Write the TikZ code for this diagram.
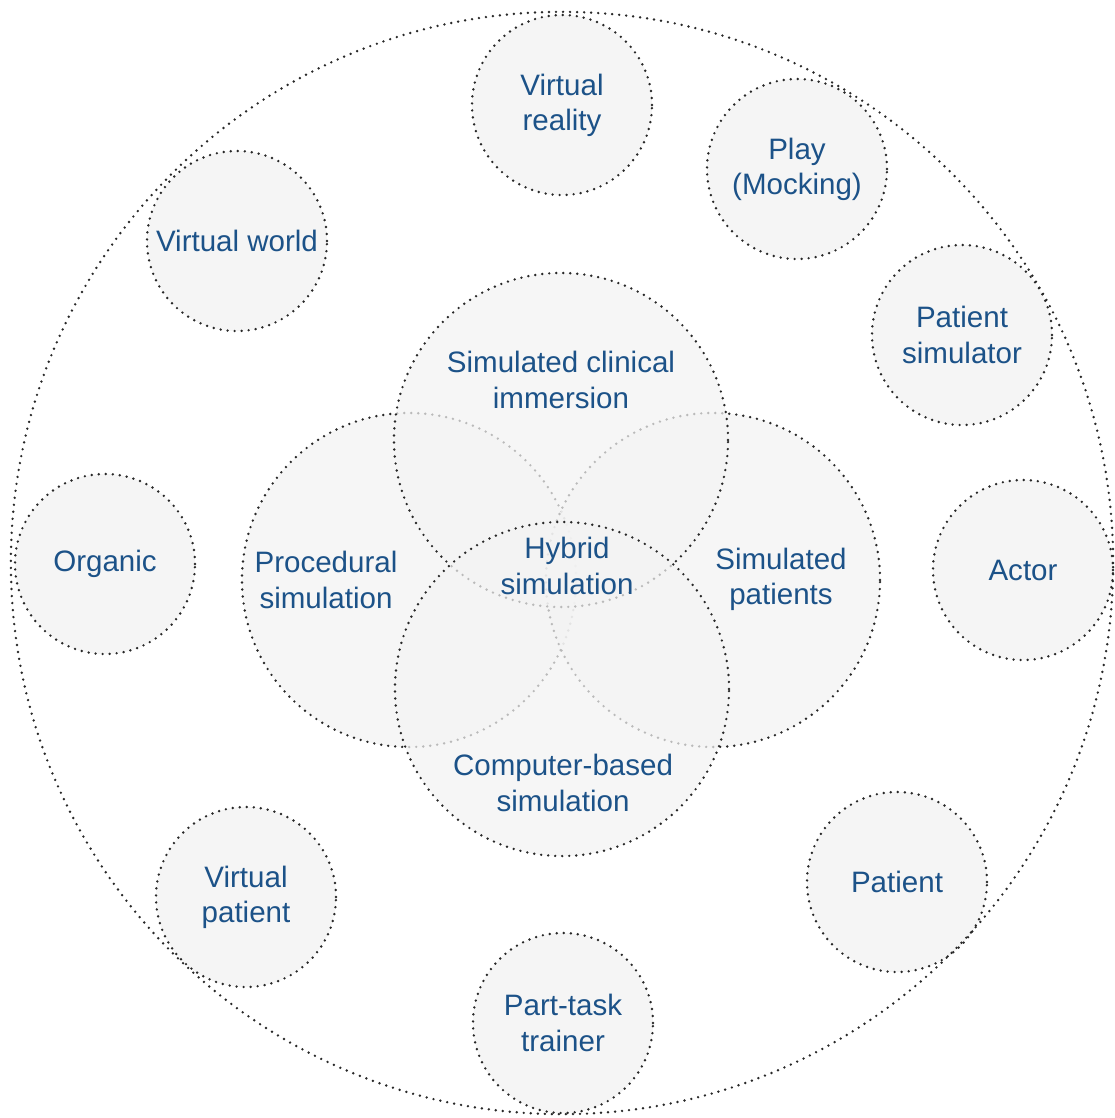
\documentclass[tikz,border=0pt]{standalone}
\usepackage{fontspec}
\setmainfont{Liberation Sans}
\definecolor{simblue}{RGB}{28,82,136}
\definecolor{bubblegray}{RGB}{245,245,245}
\definecolor{fieldgray}{RGB}{243,243,243}
\definecolor{dotgray}{RGB}{40,40,40}
\tikzset{
  dotline/.style={draw=dotgray, line width=1.9pt, line cap=round, dash pattern=on 0pt off 5pt},
  bubble/.style={circle, dotline, fill=bubblegray, minimum size=4.5cm, inner sep=0pt,
    text=simblue, align=center, font=\fontsize{21}{25}\selectfont},
  field/.style={circle, dotline, fill=fieldgray, fill opacity=0.72, minimum size=8.35cm, inner sep=0pt},
  fieldtext/.style={text=simblue, align=center, font=\fontsize{21}{25}\selectfont}
}

\begin{document}
\begin{tikzpicture}[x=0.025cm, y=-0.025cm]
			\useasboundingbox (0,0) rectangle (1114,1118);
			
			\def\outerlist {vr/{562,105}/{Virtual\\reality}, play/{797,169}/{Play\\(Mocking)},
				vw/{237,241}/{Virtual world}, psim/{962,335}/{Patient\\simulator},
				org/{105,564}/{Organic}, actor/{1023,570}/{Actor},
				vpat/{246,897}/{Virtual\\patient}, pat/{897,882}/{Patient},
				ptt/{563,1023}/{Part-task\\trainer}}  % outer bubbles
			\foreach \nm/\pos/\lbl in \outerlist
			{	\node[bubble] (\nm) at (\pos) {\lbl};}
			
			\node[circle, dotline, minimum size=27.55cm] (world) at (562,563) {};
			
			\node[field] (proc) at (409,580) {};
			\node[field] (simpat) at (713,580) {};
			\node[field] (immersion) at (561,440) {};
			\node[field] (computer) at (562,689) {};
			
			\node[fieldtext] (procT) at (326,580) {Procedural\\simulation};
			\node[fieldtext] (simpatT) at (781,579) {Simulated\\patients};
			\node[fieldtext] (immersionT) at (561,380) {Simulated clinical\\immersion};
			\node[fieldtext] (computerT) at (563,783) {Computer-based\\simulation};
			\node[fieldtext] (hybrid) at (567,566) {Hybrid\\simulation};
		\end{tikzpicture}
\end{document}
